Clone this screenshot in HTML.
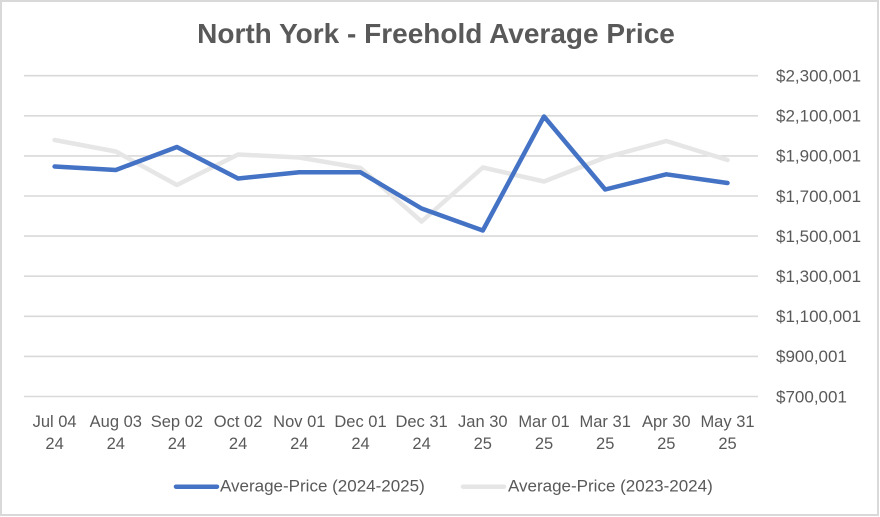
<!DOCTYPE html>
<html>
<head>
<meta charset="utf-8">
<style>
html,body{margin:0;padding:0;background:#fff;}
body{width:880px;height:517px;overflow:hidden;}
svg{display:block;}
text{font-family:"Liberation Sans",Arial,sans-serif;fill:#595959;}
</style>
</head>
<body>
<svg width="880" height="517" viewBox="0 0 880 517" xmlns="http://www.w3.org/2000/svg">
<rect x="0" y="0" width="880" height="517" fill="#fff"/>
<rect x="1" y="1" width="877" height="514" fill="none" stroke="#D9D9D9" stroke-width="2"/>
<text x="436" y="43" text-anchor="middle" font-size="28" font-weight="bold">North York - Freehold Average Price</text>
<g stroke="#D9D9D9" stroke-width="1.6">
<line x1="24" y1="75.7" x2="758" y2="75.7"/>
<line x1="24" y1="115.8" x2="758" y2="115.8"/>
<line x1="24" y1="155.9" x2="758" y2="155.9"/>
<line x1="24" y1="196" x2="758" y2="196"/>
<line x1="24" y1="236.1" x2="758" y2="236.1"/>
<line x1="24" y1="276.2" x2="758" y2="276.2"/>
<line x1="24" y1="316.3" x2="758" y2="316.3"/>
<line x1="24" y1="356.4" x2="758" y2="356.4"/>
<line x1="24" y1="396.5" x2="758" y2="396.5"/>
</g>
<g font-size="17">
<text x="776" y="81.5">$2,300,001</text>
<text x="776" y="121.6">$2,100,001</text>
<text x="776" y="161.7">$1,900,001</text>
<text x="776" y="201.8">$1,700,001</text>
<text x="776" y="241.9">$1,500,001</text>
<text x="776" y="282">$1,300,001</text>
<text x="776" y="322.1">$1,100,001</text>
<text x="776" y="362.2">$900,001</text>
<text x="776" y="402.3">$700,001</text>
</g>
<g font-size="16.5" text-anchor="middle">
<text x="54.6" y="427">Jul 04</text><text x="54.6" y="449">24</text>
<text x="115.8" y="427">Aug 03</text><text x="115.8" y="449">24</text>
<text x="176.9" y="427">Sep 02</text><text x="176.9" y="449">24</text>
<text x="238.1" y="427">Oct 02</text><text x="238.1" y="449">24</text>
<text x="299.3" y="427">Nov 01</text><text x="299.3" y="449">24</text>
<text x="360.5" y="427">Dec 01</text><text x="360.5" y="449">24</text>
<text x="421.6" y="427">Dec 31</text><text x="421.6" y="449">24</text>
<text x="482.8" y="427">Jan 30</text><text x="482.8" y="449">25</text>
<text x="544" y="427">Mar 01</text><text x="544" y="449">25</text>
<text x="605.2" y="427">Mar 31</text><text x="605.2" y="449">25</text>
<text x="666.3" y="427">Apr 30</text><text x="666.3" y="449">25</text>
<text x="727.5" y="427">May 31</text><text x="727.5" y="449">25</text>
</g>
<polyline fill="none" stroke="#E7E6E6" stroke-width="4.5" stroke-linejoin="round" stroke-linecap="round"
points="54.6,140 115.8,151.5 176.9,185 238.1,154.5 299.3,157.5 360.5,168 421.6,221.5 482.8,167.5 544,181.5 605.2,157.5 666.3,141 727.5,160"/>
<polyline fill="none" stroke="#4472C4" stroke-width="4.5" stroke-linejoin="round" stroke-linecap="round"
points="54.6,166.5 115.8,170 176.9,147 238.1,178.5 299.3,172.3 360.5,172.3 421.6,208.5 482.8,230.5 544,116.5 605.2,189.5 666.3,174.3 727.5,183"/>
<line x1="176" y1="486.7" x2="217" y2="486.7" stroke="#4472C4" stroke-width="4.5" stroke-linecap="round"/>
<text x="220" y="491.5" font-size="17">Average-Price (2024-2025)</text>
<line x1="463" y1="486.7" x2="504" y2="486.7" stroke="#E7E6E6" stroke-width="4.5" stroke-linecap="round"/>
<text x="508" y="491.5" font-size="17">Average-Price (2023-2024)</text>
</svg>
</body>
</html>
